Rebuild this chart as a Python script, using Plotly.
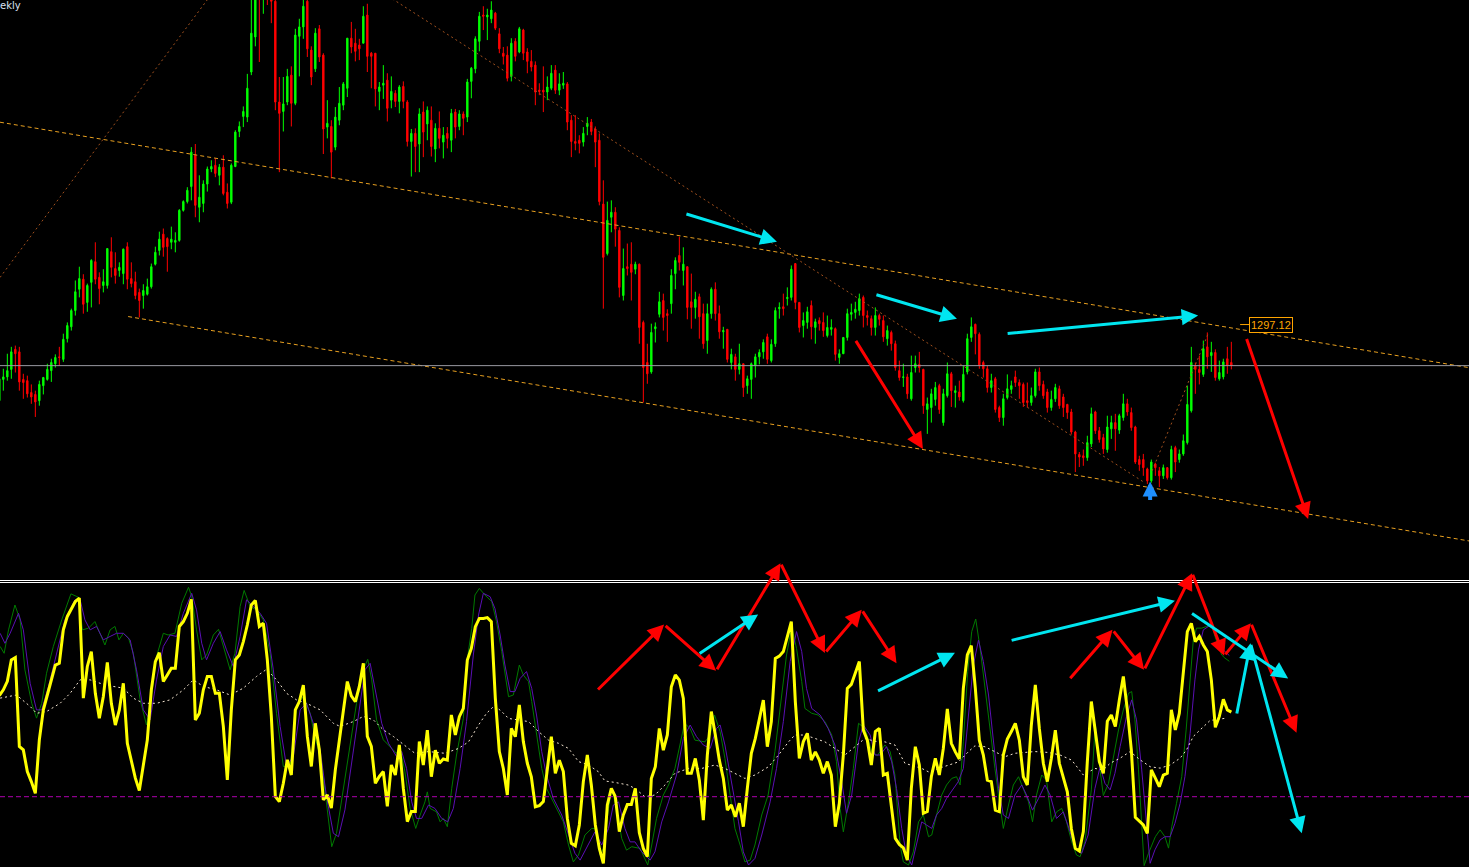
import plotly.graph_objects as go

# ---------------- price data (weekly bars) ----------------
bar_index = list(range(309))
open_ = [
1175,1209,1213,1225,1257,1253,1209,1207,1188,1185,
1175,1199,1209,1223,1234,1245,1241,1274,1293,1319,
1353,1369,1332,1364,1397,1372,1359,1359,1413,1386,
1383,1378,1421,1370,1365,1348,1343,1345,1357,1393,
1415,1441,1434,1428,1428,1431,1479,1493,1517,1567,
1484,1490,1521,1545,1551,1535,1548,1508,1492,1549,
1605,1629,1628,1700,1756,1852,1828,1876,1855,1813,
1652,1637,1652,1695,1650,1757,1772,1813,1735,1705,
1769,1727,1612,1613,1580,1623,1647,1674,1754,1746,
1743,1746,1791,1730,1730,1669,1679,1687,1655,1666,
1653,1677,1652,1589,1602,1585,1636,1617,1623,1577,
1610,1588,1602,1591,1636,1613,1633,1628,1685,1705,
1749,1791,1788,1785,1794,1761,1730,1727,1693,1749,
1732,1767,1732,1717,1711,1671,1671,1668,1674,1703,
1671,1679,1681,1623,1589,1591,1588,1613,1620,1609,
1591,1489,1410,1468,1476,1447,1343,1389,1393,1385,
1393,1300,1236,1221,1290,1313,1335,1314,1330,1378,
1407,1383,1389,1333,1324,1341,1314,1271,1314,1353,
1314,1285,1289,1236,1245,1225,1234,1199,1209,1231,
1245,1253,1277,1239,1266,1322,1325,1338,1340,1394,
1332,1295,1300,1327,1292,1303,1300,1279,1289,1290,
1244,1250,1276,1313,1316,1319,1340,1311,1306,1292,
1311,1303,1274,1284,1266,1223,1212,1213,1178,1228,
1233,1225,1161,1164,1177,1199,1140,1183,1218,1188,
1189,1175,1221,1276,1297,1281,1236,1226,1196,1210,
1164,1148,1180,1193,1213,1204,1201,1175,1172,1183,
1221,1201,1189,1164,1178,1194,1181,1169,1157,1125,
1089,1087,1084,1106,1157,1127,1116,1097,1130,1140,
1128,1148,1170,1156,1133,1081,1081,1066,1047,1074,
1063,1055,1068,1052,1100,1081,1090,1108,1159,1231,
1225,1217,1261,1247,1252,1210,1213,1242,1236]
high = [
1223,1226,1250,1261,1263,1261,1218,1215,1201,1191,
1207,1213,1234,1242,1249,1261,1282,1300,1322,1367,
1389,1377,1362,1401,1428,1380,1385,1418,1436,1412,
1396,1418,1428,1396,1381,1354,1361,1370,1394,1421,
1445,1450,1436,1453,1444,1481,1495,1516,1580,1585,
1535,1527,1549,1559,1562,1553,1567,1522,1554,1607,
1621,1645,1697,1815,1863,1912,1880,1921,1863,1823,
1692,1692,1705,1709,1769,1785,1820,1823,1741,1770,
1775,1730,1655,1623,1644,1676,1684,1754,1780,1769,
1753,1805,1809,1732,1730,1684,1711,1698,1693,1671,
1679,1685,1655,1609,1610,1642,1653,1645,1645,1618,
1637,1612,1612,1641,1641,1639,1637,1689,1708,1757,
1796,1805,1801,1813,1796,1770,1740,1741,1754,1754,
1772,1769,1738,1735,1717,1682,1709,1693,1711,1711,
1698,1700,1684,1631,1631,1599,1612,1628,1625,1613,
1602,1527,1493,1495,1484,1452,1418,1426,1428,1397,
1394,1303,1266,1298,1300,1349,1346,1321,1385,1404,
1437,1420,1389,1378,1349,1346,1330,1330,1356,1364,
1327,1293,1289,1258,1250,1266,1234,1215,1236,1250,
1257,1273,1282,1273,1324,1332,1346,1356,1391,1394,
1332,1316,1325,1335,1306,1308,1316,1311,1305,1292,
1257,1276,1322,1330,1333,1346,1343,1319,1311,1324,
1314,1311,1295,1287,1271,1239,1234,1218,1247,1247,
1253,1226,1180,1194,1205,1202,1194,1236,1221,1199,
1207,1231,1282,1308,1298,1284,1239,1231,1218,1213,
1167,1186,1217,1207,1223,1209,1204,1204,1196,1226,
1228,1207,1194,1191,1202,1199,1186,1170,1162,1127,
1093,1097,1119,1164,1159,1133,1122,1151,1151,1154,
1154,1186,1178,1164,1135,1087,1090,1068,1081,1076,
1069,1073,1069,1103,1103,1097,1121,1199,1261,1236,
1247,1271,1284,1269,1257,1239,1242,1261,1269]
low = [
1172,1191,1207,1210,1220,1191,1178,1180,1170,1149,
1167,1185,1207,1205,1228,1231,1237,1268,1287,1311,
1340,1314,1317,1324,1361,1329,1348,1354,1372,1362,
1373,1361,1353,1356,1337,1308,1322,1343,1354,1391,
1407,1405,1381,1417,1412,1429,1477,1490,1495,1468,
1460,1476,1509,1540,1532,1519,1503,1482,1489,1548,
1596,1612,1620,1695,1741,1716,1793,1807,1778,1639,
1540,1605,1647,1613,1647,1693,1753,1724,1679,1700,
1716,1569,1594,1530,1575,1615,1639,1660,1730,1717,
1719,1746,1700,1674,1645,1639,1657,1621,1642,1644,
1634,1642,1581,1533,1540,1540,1564,1591,1565,1556,
1578,1562,1578,1572,1594,1607,1599,1620,1658,1698,
1733,1767,1751,1778,1767,1730,1712,1685,1685,1717,
1730,1719,1698,1701,1647,1663,1636,1655,1671,1665,
1663,1673,1607,1564,1575,1570,1581,1599,1599,1548,
1487,1322,1407,1444,1421,1340,1335,1375,1335,1377,
1266,1172,1202,1218,1268,1308,1287,1269,1314,1353,
1383,1359,1305,1290,1306,1274,1258,1250,1306,1303,
1274,1258,1236,1225,1207,1217,1181,1186,1178,1212,
1233,1242,1234,1236,1261,1306,1311,1327,1335,1321,
1284,1276,1290,1273,1266,1287,1277,1276,1279,1239,
1234,1250,1271,1303,1306,1311,1292,1295,1279,1279,
1295,1269,1263,1255,1223,1207,1197,1178,1175,1220,
1220,1154,1122,1140,1167,1154,1135,1180,1165,1164,
1175,1172,1217,1269,1249,1226,1212,1188,1188,1156,
1141,1135,1177,1186,1197,1178,1165,1164,1167,1180,
1191,1178,1156,1159,1173,1162,1149,1146,1121,1061,
1069,1071,1079,1101,1122,1108,1090,1092,1114,1095,
1122,1143,1151,1127,1074,1063,1055,1042,1044,1055,
1037,1050,1049,1049,1061,1076,1087,1105,1156,1186,
1201,1213,1226,1221,1207,1207,1209,1218,1225]
close = [
1210,1213,1223,1253,1250,1205,1204,1186,1181,1173,
1201,1212,1225,1236,1244,1244,1273,1295,1319,1349,
1370,1329,1359,1399,1369,1354,1365,1418,1388,1375,
1388,1417,1369,1362,1343,1335,1351,1357,1389,1412,
1433,1420,1421,1433,1431,1479,1493,1511,1572,1487,
1500,1521,1545,1549,1538,1548,1506,1490,1551,1604,
1613,1637,1674,1762,1852,1828,1876,1855,1813,1652,
1634,1649,1693,1650,1759,1772,1805,1737,1692,1762,
1724,1609,1618,1572,1628,1650,1681,1754,1740,1733,
1737,1789,1725,1725,1673,1676,1682,1642,1669,1653,
1676,1653,1589,1602,1581,1633,1604,1639,1581,1610,
1594,1599,1594,1634,1612,1633,1626,1684,1706,1753,
1789,1789,1791,1799,1770,1737,1725,1690,1746,1725,
1769,1730,1717,1708,1668,1669,1668,1676,1698,1671,
1681,1682,1620,1589,1586,1586,1602,1618,1605,1588,
1493,1404,1463,1476,1449,1356,1386,1386,1380,1393,
1292,1228,1218,1284,1293,1333,1308,1311,1375,1399,
1396,1393,1324,1324,1337,1309,1266,1314,1353,1314,
1285,1287,1241,1249,1225,1234,1196,1210,1234,1245,
1252,1268,1241,1265,1319,1324,1322,1340,1385,1332,
1292,1303,1317,1293,1301,1298,1287,1292,1292,1249,
1250,1276,1314,1316,1321,1338,1311,1308,1292,1311,
1305,1277,1287,1266,1228,1212,1213,1186,1220,1234,
1228,1167,1170,1186,1196,1161,1186,1218,1191,1191,
1181,1217,1274,1293,1282,1231,1226,1196,1207,1161,
1148,1178,1194,1199,1204,1199,1172,1172,1183,1221,
1199,1183,1164,1177,1196,1167,1164,1156,1125,1090,
1085,1084,1108,1154,1127,1113,1098,1133,1140,1130,
1151,1170,1157,1132,1077,1073,1068,1047,1077,1068,
1055,1068,1052,1097,1077,1090,1111,1169,1236,1225,
1220,1258,1245,1252,1212,1220,1237,1231,1231]

# ---------------- oscillator (lower window) ----------------
yellow = [
60,62,65,72.5,73.3,42.2,41,33.4,29.9,25.8,
44.5,55,60.2,65.5,70.7,71.3,83,87.7,90.6,92.9,
94.1,59.1,70.2,75.4,60.8,52.1,59.7,71.6,57.3,49.7,
55,64.3,43.3,37.7,31.1,26.8,36.3,44.5,62,71.9,
75,64.9,67.2,69.6,69.6,84.2,85.9,88.8,93.7,51.5,
53.8,62,66.7,66.7,60.8,60.8,49.2,30.5,55,72.5,
74.2,78.9,84.7,91.7,93.3,84.2,85.3,72.5,52.7,24.7,
22.9,29.3,37.5,32.2,55,57.9,63.7,45.7,35.2,50.3,
41,23.5,25.2,20.6,34,43.9,55,64.9,59.9,57.9,
63.2,71.3,45.7,42.2,29.3,31.7,33.4,21.2,35.7,32.2,
42.7,27.5,15.9,19.4,19.4,43.9,35.7,47.9,31.6,40.9,
36.3,37.8,37.4,53.2,46.2,52.6,55.5,72.4,76.5,84.1,
87,87,87.3,85.9,59,40.4,34.5,25.2,48.5,45.6,
56.7,43.9,36.3,31.6,21.1,21.5,22.9,33.4,45.6,32.8,
37.4,33.4,17,8.3,7.4,14.7,29.9,39.2,28.7,14.7,
6.5,1.3,21.7,27.5,24.6,12.4,18.2,21.9,21.9,27.5,
12,6.5,3.6,31,35.1,48.5,40.9,46.2,63.1,67.2,
65.4,59,32.8,32.8,38,30.4,16.4,39.2,54.4,46.2,
37.4,31,19.9,21.7,17.6,22.3,14.1,27.5,39.8,45,
52,58.4,42.1,50.9,73,73.8,75.4,81.2,85.9,57.9,
38,43.9,46.8,37.4,40.3,37.4,32.8,36.9,32.2,14.1,
22.3,39.2,62.5,63.9,67.8,71.9,47.9,44.4,35.7,47.4,
48.5,32.2,32.8,21.4,10,7.9,6.7,2.4,27.5,42.1,
35.7,18.8,19.4,31.6,38,32.2,41.5,55.3,43.3,40.3,
37.8,62.5,74.2,77.5,62.5,44.4,39.2,30.4,29.9,19.9,
19.4,39.2,44.8,47.4,50.3,44.4,31.6,28.7,49.7,63.7,
48.5,36.3,29.9,38,47.9,36.3,31,26.3,13.5,6.5,
5.6,12.4,36.9,57.9,47.4,36.9,32.8,51,53.2,49.2,
58.5,66.7,55,41,17.4,15.9,14.7,11.8,34,31.1,
28.1,32.2,32.8,55,48,53.8,67.8,82.4,85.3,78.9,
80.7,77.7,75.4,65.5,48.9,52.7,58.7,55,54.2]

green_pts = [
(0.2,77.2),(1.2,74.8),(2.3,83),(3.9,91.7),(5.2,86.5),(6.4,69),(8.1,57.3),(9.3,52.1),(10.6,57.3),(11.8,67.8),
(13.5,77.2),(15.6,86.5),(17.9,95.6),(19.8,94.4),(20.8,83),(22.3,83.6),(23.9,85.9),(25.2,81.8),(26.4,77.7),(27.7,83),
(28.9,84.2),(29.9,79.5),(31,81.8),(32.3,80.1),(33.5,74.8),(35.2,58.5),(36.8,49.7),(38.1,60.8),(39.3,73.7),(41,81.8),
(42.2,81.2),(43.9,81.8),(45.6,92.3),(47.3,97.9),(48.1,94.7),(49.3,83),(50.6,72.5),(51.8,74.2),(53.5,81.2),(54.8,83.2),
(56,77.2),(57.7,69),(58.9,74.8),(60.2,91.2),(61.2,96.8),(62.7,91.2),(64.3,90),(66,86.5),(67.7,74.8),(69.3,53.8),
(71,35.2),(72.7,35.2),(74.3,56.2),(76,59.7),(77.7,53.8),(78.9,45.7),(80.6,36.3),(82.3,15.3),(83.1,7.1),(84.3,11.8),
(86,27),(87.7,43.3),(89.3,57.3),(91,69),(92.1,72.7),(93.1,65.5),(94.3,51.5),(96,44.5),(97.7,42.2),(99.3,39.8),
(100.2,41.5),(101.4,33.3),(102.7,20.5),(104.1,13.5),(105.2,18.2),(106.4,22.8),(107,26.3),(107.7,20.5),(109.3,19.3),(110.2,15.8),
(111,17),(112,14.1),(113.1,27.5),(114.3,39.2),(116,52),(116.8,70.7),(118.1,83.5),(118.9,95.2),(120,97.5),(121.4,95.2),
(123.1,92.9),(124.3,85.9),(125.6,75.4),(126.4,67.2),(127.3,59.6),(128.5,60.2),(130,70.7),(131,67.2),(132.3,64.9),(133.1,57.9),
(134.3,46.2),(135.6,34.5),(136.8,27.5),(138.1,24),(139.8,19.3),(141,15.8),(142.3,7.7),(143.5,1.8),(144.8,4.2),(146.4,11.2),
(148.1,13.5),(148.9,13.5),(150.2,4.2),(151,6.5),(152.3,20.5),(153.1,27.5),(154.3,20.5),(155.6,10),(156.8,5.9),(158.1,7.1),
(160.2,6.5),(162.1,0.7),(163.1,7.7),(164.3,17),(166,25.2),(167.3,28.7),(168.9,34.5),(170.2,42.7),(171.3,50.3),(172.7,48.5),
(173.9,44.4),(176.4,43.8),(177.7,46.2),(178.8,53.2),(180.2,47.4),(181.4,38),(182.7,25.2),(183.9,13.5),(185.2,7.7),(186.4,1.8),
(187.7,2.4),(188.9,7.7),(190.6,18.2),(192.2,25.2),(193.9,40.4),(195.6,60.2),(196.8,74.2),(198.1,84.1),(199.3,76.5),(200.6,64.9),
(201.4,55.5),(203.1,53.8),(204.7,53.2),(206.4,50.9),(208.1,46.2),(209.3,36.9),(210.2,20.5),(211,12.3),(212.3,22.8),(213.5,34.5),
(214.8,50.3),(216.4,48.5),(218.1,40.4),(219.5,39),(221.4,42.7),(222.7,40.4),(223.9,32.2),(225.2,7.7),(226,1.8),(227.3,0.7),
(228.5,5.3),(229.8,15.8),(231,18.2),(232.3,10.6),(233.1,11.2),(234.3,18.2),(235.6,25.2),(236.8,28.7),(238.1,31),(239.3,31.6),
(240.2,28.7),(241,43.8),(242.1,68.4),(243.1,82.4),(244.1,86.8),(245.2,76.5),(246.4,62.5),(247.7,47.4),(248.9,34.5),(249.9,24),
(251,13.5),(252.3,21.7),(253.5,28.7),(254.8,31.6),(256,27.5),(257.3,22.8),(258.3,15.8),(259.3,25.2),(260.6,32.2),(261.8,30.4),
(263.1,15.8),(264.3,19.3),(265.6,20.5),(266.8,15.8),(268.1,8.8),(269.3,4.2),(270.2,3.6),(271.4,8.8),(273,27),(274,50),
(275,36),(276,25),(277.3,29.3),(278.5,38.7),(279.8,48),(281,55),(282.3,60.8),(283.1,61.4),(283.9,51.5),(284.8,34),
(285.6,14.1),(286.2,0.5),(287.3,4.8),(289,10.6),(290.2,13),(291.4,10.6),(292.3,6.6),(293.1,14.1),(294.3,22.3),(295.6,31.6),
(296.7,48),(297.5,63.2),(298.5,79.5),(299.3,83.6),(300.6,83.6),(301.8,84.2),(303.1,84.7),(303.9,80.7),(304.8,77.2),(305.6,74.2),
(306.4,73.1),(307.5,72)]

purple_pts = [
(0.2,81.8),(1.4,78.3),(2.7,81.8),(4.8,88.8),(6,83),(7.7,64.3),(9.3,55),(10.6,55),(12.3,63.2),(14.3,74.8),
(16.4,86.5),(18.9,93.5),(20.2,93.5),(21.4,86.5),(22.7,83),(24.3,84.2),(26,79.5),(27.7,80.7),(29.3,81.8),(31,81.8),
(32.7,79.5),(34.3,69),(36,55),(37.7,51.5),(39.3,65.5),(41,77.2),(42.7,81.2),(44.3,80.7),(46,88.8),(48.1,95.8),
(49.3,90),(50.6,78.3),(51.8,72.5),(53.5,78.3),(55.2,82.4),(56.8,76),(58.5,70.2),(60.2,80.7),(61.8,93.5),(63.5,91.2),
(65.2,88.8),(66.8,85.3),(68.5,69),(70.2,49.2),(71.8,35.2),(73.5,38.7),(75.2,55),(76.8,57.3),(78.5,50.3),(80.2,41),
(81.8,24.6),(83.5,11.8),(84.8,10.6),(86.4,20),(88.1,36.3),(89.8,53.8),(91.4,69),(92.7,71.3),(93.9,62),(95.6,50.3),
(97.3,43.3),(99.3,38.7),(100.6,40.4),(101.8,34.5),(103.1,22.8),(104.3,17),(105.6,17),(107.3,21.7),(108.9,20.5),(110.6,17),
(112.1,15.8),(113.5,20.5),(115.2,34.5),(116.8,50.9),(118.5,74.2),(119.8,88.2),(121,95.8),(122.7,94.6),(123.9,90.5),(125.2,81.2),
(126.4,70.7),(127.7,61.4),(128.9,61.4),(130.2,66),(131.8,68.4),(133.1,62.5),(134.3,53.2),(135.6,40.4),(136.8,32.2),(138.5,24),
(140.6,18.2),(142.3,11.2),(143.9,4.8),(145.2,2.4),(146.8,6.5),(148.9,12.3),(150.6,7.7),(152.3,13.5),(153.5,21.7),(154.8,22.8),
(156.4,13.5),(157.7,8.8),(158.9,8.8),(160.6,5.3),(162.7,2.4),(163.9,5.3),(165.6,15.8),(167.3,22.8),(169.3,32.2),(171,45),
(172.7,49.7),(174.3,45.6),(176,42.7),(177.7,41.5),(179.3,48.5),(180.2,49.7),(181.4,42.7),(183.1,29.8),(184.8,15.8),(186,5.3),
(187.3,0.7),(188.9,3),(190.6,11.2),(192.7,22.8),(194.3,34.5),(196,50.9),(197.7,71.9),(199.3,82.4),(200.6,75.4),(201.8,62.5),
(203.1,55.5),(205.2,53.2),(207.2,48.5),(208.9,42.7),(210.6,29.8),(211.8,18.8),(213.1,25.2),(214.8,43.8),(216,49.7),(217.7,46.2),
(218.9,39.2),(220.2,39.2),(221.8,42.1),(223.1,36.8),(224.3,27.5),(225.6,13.5),(226.8,4.2),(228.1,0.7),(229.3,7.7),(230.6,15.8),
(231.8,14.7),(233.1,13.5),(234.3,18.2),(235.6,20.5),(236.8,24),(238.5,27.5),(239.7,29.8),(241,34.5),(242.3,53.2),(243.5,70.7),
(244.8,79.4),(246,71.9),(247.3,60.2),(248.5,43.8),(249.8,27.5),(251,18.2),(252.3,17),(253.9,25.2),(255.6,28.7),(256.8,25.2),
(258.3,19.9),(259.8,24),(261.4,28.7),(262.7,25.2),(264.3,17),(266,19.3),(267.7,12.3),(268.9,6.5),(270.6,4.8),(272.2,11.2),
(273.9,27.5),(275.2,35.1),(276.4,29.3),(277.7,27),(278.9,32.8),(280.2,42.2),(281.8,52.7),(283.1,58.5),(284.3,51.5),(285.6,34),
(286.8,15.3),(287.7,1.3),(288.9,6),(290.2,9.5),(291.4,10.6),(292.7,10.6),(293.9,15.3),(295.2,22.3),(296.4,31.6),(297.7,46.8),
(298.9,65.5),(299.8,76),(301,83),(302.3,84.2),(303.1,84.2),(304.5,80),(306,76),(307.5,74)]

white_pts = [
(0.2,59.1),(4.3,60.2),(7.7,56.2),(9.3,53.8),(11.8,54.4),(15.2,57.3),(17.7,60.8),(20.2,65.5),(22.7,65.5),(25.2,64.3),
(28.5,63.2),(31,62.6),(33.5,59.1),(36,57.3),(39.3,57.3),(42.7,58.5),(46,62),(48.5,65.5),(51,63.2),(54.3,62),
(57.7,60.2),(61,62.6),(64.3,66.7),(66.8,69.2),(69.3,65.5),(71.8,60.8),(74.3,58.5),(76.8,57.3),(80.2,55),(83.5,50.3),
(85.2,49.2),(88.5,50.9),(91,52.7),(93.5,51.5),(96,48),(98.5,45.7),(102.3,41.5),(103.9,39.8),(107.3,40.4),(111.4,39.8),
(114.8,41.5),(117.3,43.8),(119.8,49.7),(121.8,53.8),(123.8,56.5),(125.6,54.4),(127.3,52),(129.8,51.4),(132.3,50.9),(134.8,47.4),
(137.3,44.4),(139.8,43.3),(142.3,41.5),(144.8,36.9),(147.3,35.7),(149.8,33.3),(151.4,30.1),(153.9,29.6),(157.2,28.7),(158.9,27.5),
(161.4,24.6),(163.9,25.2),(166.4,28.7),(168.9,32.8),(172.3,34.5),(175.6,34.5),(178.9,35.7),(181.4,34.5),(183.9,32.8),(186.4,31),
(188.9,32.2),(192.3,35.1),(194.8,39.2),(197.3,43.8),(198.9,46.2),(201.4,46.2),(203.9,45),(206.4,43.8),(208.9,41.5),(211.4,39.2),
(213.9,42.1),(216.4,45),(218.9,44),(221.4,43.8),(223.9,42.7),(226.4,36.3),(230.6,34.5),(232.3,33.3),(234.8,34.5),(237.3,35.7),
(239.8,36.8),(242.3,40.4),(243.9,42.4),(246.4,42.1),(248.9,40.4),(251.4,38.6),(253.9,39.8),(258.9,40.4),(262.2,40.1),(265.2,39.2),
(268.1,37.4),(271,32.2),(273.9,34.5),(276,34),(277.7,36.3),(280.2,38.1),(282.7,40.4),(285.2,37.5),(287.7,35.1),(290.2,34.6),
(292.7,35.7),(295.2,38.1),(296.8,41),(298.5,45.7),(300.2,48),(301.8,50.3),(302.7,51.3),(306.8,52.1)]

osc_level = 24.6
h_level = 1231
price_label = "1297.12"
price_label_pos = (317.9, 1295.8)
title_text = "ekly"

# trend lines (bar index, price)
orange_lines = [((0.17, 1619.8), (367.42, 1227.8)), ((32.2, 1309.4), (367.42, 951.0))]
brown_lines = [((0.17, 1371.8), (61.3, 1895.0)), ((90.9, 1847.0), (286.4, 1043.8)), ((288.2, 1063.0), (302.2, 1282.0))]

# drawn arrows: (tail index, tail value, head index, head value, colour)
CYAN, RED, BLUE = "#00E6F0", "#FF0000", "#1E8FFF"
main_arrows = [
    (171.4, 1474, 194.4, 1429, CYAN), (218.9, 1345, 239.4, 1306, CYAN), (251.7, 1282, 299.7, 1311, CYAN),
    (213.9, 1273, 230.9, 1098, RED), (311.7, 1276, 327.2, 986, RED),
]
blue_arrow = (287.7, 1014.0, 287.7, 1046.0, BLUE)
osc_arrows = [
    (149.3, 61.6, 166.2, 84.9, RED), (166.2, 84.9, 179.2, 68.7, RED), (179.2, 68.7, 195.3, 106.3, RED),
    (195.3, 106.3, 206.4, 74.9, RED), (206.4, 74.9, 215.6, 90.0, RED), (215.6, 90.0, 224.3, 71.3, RED),
    (174.7, 74.4, 189.7, 88.4, CYAN), (219.3, 61.4, 238.9, 75.0, CYAN), (252.7, 79.2, 293.9, 93.2, CYAN),
    (267.4, 65.5, 278.3, 83.0, RED), (278.3, 83.0, 286.2, 69.0, RED), (286.2, 69.0, 298.2, 102.8, RED),
    (298.2, 102.8, 306.2, 73.9, RED), (306.2, 73.9, 312.9, 85.3, RED), (312.9, 85.3, 324.3, 47.0, RED),
    (297.8, 89.1, 322.2, 66.0, CYAN), (309.3, 53.2, 312.8, 78.3, CYAN), (312.8, 78.3, 325.6, 11.8, CYAN),
]

W, H = 1469, 867
fig = go.Figure()

fig.add_trace(go.Candlestick(
    x=bar_index, open=open_, high=high, low=low, close=close,
    increasing=dict(line=dict(color="#00FF00", width=1), fillcolor="#00FF00"),
    decreasing=dict(line=dict(color="#FF0000", width=1), fillcolor="#FF0000"),
    whiskerwidth=0, hoverinfo="skip", xaxis="x", yaxis="y"))

fig.add_trace(go.Scatter(x=[p[0] for p in green_pts], y=[p[1] for p in green_pts], mode="lines",
                         line=dict(color="#007A00", width=1), xaxis="x", yaxis="y2", hoverinfo="skip"))
fig.add_trace(go.Scatter(x=[p[0] for p in purple_pts], y=[p[1] for p in purple_pts], mode="lines",
                         line=dict(color="#5A10B4", width=1), xaxis="x", yaxis="y2", hoverinfo="skip"))
fig.add_trace(go.Scatter(x=[p[0] for p in white_pts], y=[p[1] for p in white_pts], mode="lines",
                         line=dict(color="#F5E6D2", width=1, dash="2px,3px"), xaxis="x", yaxis="y2", hoverinfo="skip"))
fig.add_trace(go.Scatter(x=bar_index, y=yellow, mode="lines",
                         line=dict(color="#FFFF00", width=3), xaxis="x", yaxis="y2", hoverinfo="skip"))

shapes = []
for (a, b) in orange_lines:
    shapes.append(dict(type="line", xref="x", yref="y", x0=a[0], y0=a[1], x1=b[0], y1=b[1],
                       line=dict(color="#E8A020", width=1, dash="4px,3px")))
for (a, b) in brown_lines:
    shapes.append(dict(type="line", xref="x", yref="y", x0=a[0], y0=a[1], x1=b[0], y1=b[1],
                       line=dict(color="#A0501E", width=1, dash="2px,3px")))
shapes.append(dict(type="line", xref="paper", yref="y", x0=0, x1=1, y0=h_level, y1=h_level,
                   line=dict(color="#9A9AA2", width=1)))
shapes.append(dict(type="line", xref="paper", yref="y2", x0=0, x1=1, y0=osc_level, y1=osc_level,
                   line=dict(color="#B000B0", width=1, dash="5px,3px")))
shapes.append(dict(type="line", xref="x", yref="y", x0=310.2, x1=312.7, y0=1296.6, y1=1296.6,
                   line=dict(color="#FFA500", width=1)))
for yy in (1 - 580.5 / H, 1 - 582.5 / H):
    shapes.append(dict(type="line", xref="paper", yref="paper", x0=0, x1=1, y0=yy, y1=yy,
                       line=dict(color="#FFFFFF", width=1)))

annotations = []
for (tx, ty, hx, hy, col) in main_arrows:
    annotations.append(dict(x=hx, y=hy, ax=tx, ay=ty, xref="x", yref="y", axref="x", ayref="y",
                            text="", showarrow=True, arrowhead=2, arrowsize=1.1, arrowwidth=3, arrowcolor=col))
for (tx, ty, hx, hy, col) in osc_arrows:
    annotations.append(dict(x=hx, y=hy, ax=tx, ay=ty, xref="x", yref="y2", axref="x", ayref="y2",
                            text="", showarrow=True, arrowhead=2, arrowsize=1.1, arrowwidth=3, arrowcolor=col))
tx, ty, hx, hy, col = blue_arrow
annotations.append(dict(x=hx, y=hy, ax=tx, ay=ty, xref="x", yref="y", axref="x", ayref="y",
                        text="", showarrow=True, arrowhead=2, arrowsize=0.75, arrowwidth=4, arrowcolor=col))
annotations.append(dict(x=price_label_pos[0], y=price_label_pos[1], xref="x", yref="y", text=price_label,
                        showarrow=False, font=dict(family="Liberation Sans, Arial", size=11, color="#FFA500"),
                        bgcolor="#000000", bordercolor="#FFA500", borderwidth=1, borderpad=1,
                        xanchor="center", yanchor="middle"))
annotations.append(dict(x=0, y=1, xref="paper", yref="paper", text=title_text, showarrow=False,
                        font=dict(family="DejaVu Sans, Tahoma", size=10, color="#D8E0F0"),
                        xanchor="left", yanchor="top", xshift=-2, yshift=2))

axis_off = dict(visible=False, showgrid=False, zeroline=False, showticklabels=False, fixedrange=True)
fig.update_layout(
    width=W, height=H, margin=dict(l=0, r=0, t=0, b=0),
    paper_bgcolor="#000000", plot_bgcolor="#000000", showlegend=False, boxgap=0.5,
    xaxis=dict(range=[0.1675, 367.4175], rangeslider=dict(visible=False), **axis_off),
    yaxis=dict(domain=[1 - 579 / H, 1], range=[890.2, 1815], **axis_off),
    yaxis2=dict(domain=[0, 312 / H], range=[0, 109.2], anchor="x", **axis_off),
    shapes=shapes, annotations=annotations,
)

fig.write_html("out.html", config={"displayModeBar": False},
               post_script="document.body.style.margin='0';document.body.style.overflow='hidden';")
